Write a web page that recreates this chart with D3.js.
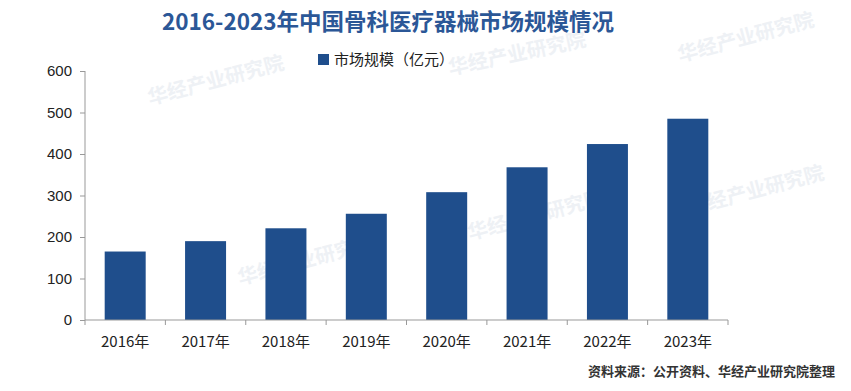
<!DOCTYPE html>
<html>
<head>
<meta charset="utf-8">
<script src="https://cdn.jsdelivr.net/npm/d3@7"></script>
<style>
body { margin: 0; background: #fff; }
svg text { font-family: "Noto Sans CJK SC", "Noto Sans", sans-serif; }
</style>
</head>
<body>
<svg id="chart" width="851" height="391"></svg>
<script>
// data
var years = ["2016年", "2017年", "2018年", "2019年", "2020年", "2021年", "2022年", "2023年"];
var marketSize = [165, 190, 221, 256, 308, 368, 424, 485];
var yTicks = [0, 100, 200, 300, 400, 500, 600];

var svg = d3.select("#chart");
var margin = { left: 85, right: 123, top: 71, bottom: 71 };
var width = 851 - margin.left - margin.right;
var height = 391 - margin.top - margin.bottom;

// faint watermarks
var marks = [
    { x: 680, y: 62, r: -15 }, { x: 450, y: 75, r: -12 }, { x: 150, y: 105, r: -15 },
    { x: 240, y: 285, r: -15 }, { x: 470, y: 240, r: -15 }, { x: 690, y: 215, r: -15 }
];
svg.selectAll(".wm")
    .data(marks)
    .enter()
    .append("text")
    .attr("class", "wm")
    .attr("transform", function (d) { return "translate(" + d.x + "," + d.y + ") rotate(" + d.r + ")"; })
    .attr("font-size", 20)
    .attr("font-weight", "bold")
    .attr("fill", "#eef1f5")
    .text("华经产业研究院");

var g = svg.append("g").attr("transform", "translate(" + margin.left + "," + margin.top + ")");

var x = d3.scaleBand().domain(years).range([0, width]).paddingInner(0.49).paddingOuter(0.245);
var y = d3.scaleLinear().domain([0, 600]).range([height, 0]);

// bars
g.selectAll(".bar")
    .data(marketSize)
    .enter()
    .append("rect")
    .attr("class", "bar")
    .attr("x", function (d, i) { return x(years[i]); })
    .attr("y", function (d) { return y(d); })
    .attr("width", x.bandwidth())
    .attr("height", function (d) { return height - y(d); })
    .attr("fill", "#1f4e8c");

// y axis
var yAxis = g.append("g")
    .call(d3.axisLeft(y).tickValues(yTicks).tickSize(5).tickPadding(8));
yAxis.select(".domain").attr("stroke", "#999").attr("d", "M0,0V" + height);
yAxis.selectAll(".tick line").attr("stroke", "#999");
yAxis.selectAll(".tick text")
    .attr("font-size", 15)
    .attr("fill", "#222")
    .style("font-family", "Liberation Sans, Arial, sans-serif");

// x axis with ticks between categories
var xAxis = g.append("g").attr("transform", "translate(0," + height + ")");
xAxis.append("line")
    .attr("x1", 0).attr("x2", width)
    .attr("stroke", "#999");
var step = x.step();
xAxis.selectAll(".xtick")
    .data(d3.range(years.length + 1))
    .enter()
    .append("line")
    .attr("x1", function (d) { return d * step; })
    .attr("x2", function (d) { return d * step; })
    .attr("y1", 0).attr("y2", 5)
    .attr("stroke", "#999");
xAxis.selectAll(".xlabel")
    .data(years)
    .enter()
    .append("text")
    .attr("x", function (d) { return x(d) + x.bandwidth() / 2; })
    .attr("y", 27)
    .attr("text-anchor", "middle")
    .attr("font-size", 15)
    .attr("fill", "#222")
    .text(function (d) { return d; });

// title
svg.append("text")
    .attr("x", 388)
    .attr("y", 30)
    .attr("text-anchor", "middle")
    .attr("font-size", 22.5)
    .attr("font-weight", "bold")
    .attr("fill", "#2b5797")
    .text("2016-2023年中国骨科医疗器械市场规模情况");

// legend
svg.append("rect")
    .attr("x", 318).attr("y", 54)
    .attr("width", 11).attr("height", 11)
    .attr("fill", "#1f4e8c");
svg.append("text")
    .attr("x", 334).attr("y", 65)
    .attr("font-size", 15)
    .attr("fill", "#222")
    .text("市场规模（亿元）");

// source
svg.append("text")
    .attr("x", 835).attr("y", 376)
    .attr("text-anchor", "end")
    .attr("font-size", 13)
    .attr("font-weight", "bold")
    .attr("fill", "#333")
    .text("资料来源：公开资料、华经产业研究院整理");
</script>
</body>
</html>
